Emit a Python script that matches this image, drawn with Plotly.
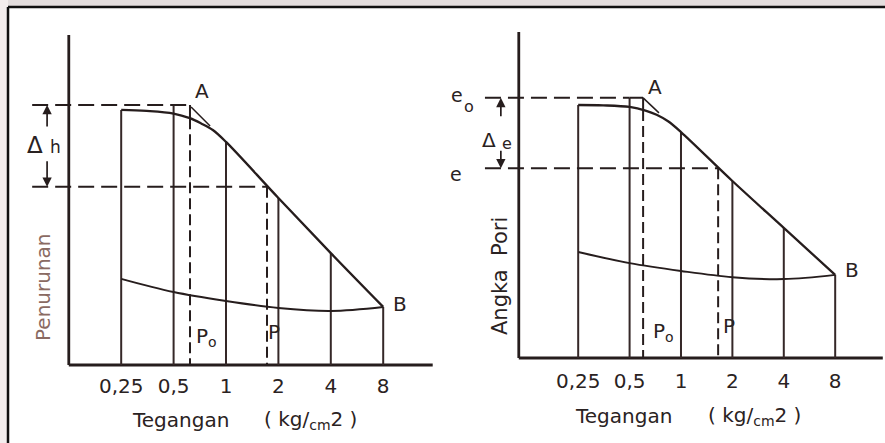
import numpy as np
import plotly.graph_objects as go

W, H = 885, 443

# ---------------- data ----------------
# stress axis (kg/cm2), shared tick positions
p_ticks = [0.25, 0.5, 1, 2, 4, 8]
p_ticktext = ["0,25", "0,5", "1", "2", "4", "8"]

# left diagram: settlement (Penurunan) vs stress
load_p_L = [0.25, 0.35, 0.5, 0.62, 0.72, 0.84, 1, 2, 4, 8]
load_h_L = [77.3, 77.0, 76.2, 74.8, 73.2, 71.2, 67.6, 50.6, 33.9, 17.6]
unload_p_L = [0.25, 0.5, 1, 2, 4, 8]
unload_h_L = [26.1, 22.1, 19.4, 17.3, 16.4, 17.6]
h0_L, h1_L = 78.8, 54.0          # levels bounding delta-h
po_L, p_L = 0.621, 1.72          # Po and P
tan_p_L = [0.63, 0.81]
tan_h_L = [78.2, 72.4]
axis_p_L = [0.125, 15.4]         # extent of the drawn axes
dim_p_L = 0.0938                 # position of the delta-h dimension arrows
lead_p_L = 0.077                 # start of the dashed leader lines

# right diagram: void ratio (Angka Pori) vs stress
load_p_R = [0.25, 0.35, 0.5, 0.62, 0.72, 0.84, 1, 2, 4, 8]
load_e_R = [77.6, 77.5, 77.0, 75.9, 74.6, 72.6, 69.3, 54.3, 39.9, 25.5]
unload_p_R = [0.25, 0.5, 1, 2, 4, 8]
unload_e_R = [32.5, 29.1, 26.7, 24.8, 24.2, 25.5]
e0_R, e1_R = 79.8, 58.2          # e0 and e
po_R, p_R = 0.60, 1.65
tan_p_R = [0.60, 0.743]
tan_e_R = [79.8, 75.2]
axis_p_R = [0.1122, 15.2]
dim_p_R = 0.0881
lead_p_R = 0.0711

# ---------------- styling ----------------
INK = "#261d1d"
VINK = "#352828"
TXT = "#2a2222"
FONT = "DejaVu Sans, Verdana, sans-serif"

fig = go.Figure()


def line(xs, ys, ax, color=INK, width=2.0, dash=None, shape="linear"):
    xa, ya = ("x", "y") if ax == 1 else ("x2", "y2")
    fig.add_trace(go.Scatter(
        x=xs, y=ys, xaxis=xa, yaxis=ya, mode="lines",
        line=dict(color=color, width=width, dash=dash, shape=shape),
        hoverinfo="skip", showlegend=False))


def panel(ax, load_p, load_v, unload_p, unload_v, v0, v1, po, p,
          tan_p, tan_v, axis_p, lead_p, top_solid_from_half):
    # axes
    line([axis_p[0], axis_p[0]], [0, 100], ax, width=2.8)
    line([axis_p[0], axis_p[1]], [0, 0], ax, width=2.8)
    # vertical ordinates at each stress increment
    vx, vy = [], []
    for t in p_ticks:
        top = v0 if t == 0.5 else load_v[load_p.index(t)]
        vx += [t, t, None]
        vy += [0, top, None]
    line(vx, vy, ax, color=VINK, width=2.0)
    # loading and unloading curves
    line(load_p, load_v, ax, width=2.3, shape="spline")
    line(unload_p, unload_v, ax, width=2.0, shape="spline")
    # dashed leaders
    if top_solid_from_half:
        line([lead_p, 0.5], [v0, v0], ax, width=2.0, dash="16px,7px")
        line([0.5, po], [v0, v0], ax, width=2.0)
    else:
        line([lead_p, po], [v0, v0], ax, width=2.0, dash="16px,7px")
    line([lead_p, p], [v1, v1], ax, width=2.0, dash="16px,7px")
    # Po and P verticals
    po_top = np.interp(np.log10(po), np.log10(load_p), load_v)
    line([po, po], [v0, po_top], ax, width=2.0)
    line([po, po], [po_top, 0], ax, width=2.0, dash="11px,5px")
    line([p, p], [v1, 0], ax, width=2.0, dash="11px,5px")
    # tangent stroke at A
    line(tan_p, tan_v, ax, width=1.5)


panel(1, load_p_L, load_h_L, unload_p_L, unload_h_L, h0_L, h1_L, po_L, p_L,
      tan_p_L, tan_h_L, axis_p_L, lead_p_L, False)
panel(2, load_p_R, load_e_R, unload_p_R, unload_e_R, e0_R, e1_R, po_R, p_R,
      tan_p_R, tan_e_R, axis_p_R, lead_p_R, True)

anns = []


def arrow(ax, p, v, dy):
    anns.append(dict(xref="x" if ax == 1 else "x2", yref="y" if ax == 1 else "y2",
                     x=np.log10(p), y=v, ax=0, ay=dy, text="", showarrow=True,
                     arrowhead=2, arrowsize=1.1, arrowwidth=1.7, arrowcolor=INK))


arrow(1, dim_p_L, h0_L, 23)
arrow(1, dim_p_L, h1_L, -27)
arrow(2, dim_p_R, e0_R, 20)
arrow(2, dim_p_R, e1_R, -19)


def txt(px, py, s, size=20, color=TXT, angle=0, xanchor="center", yanchor="middle"):
    anns.append(dict(xref="paper", yref="paper", x=px / W, y=1 - py / H, text=s,
                     showarrow=False, textangle=angle, xanchor=xanchor, yanchor=yanchor,
                     font=dict(family=FONT, size=size, color=color)))


# left labels
txt(202, 91, "A")
txt(400, 304, "B")
txt(194, 337, "P<sub>o</sub>", xanchor="left")
txt(274, 332, "P")
txt(35, 145, "Δ", size=23)
txt(55, 147, "h", size=17)
txt(43, 287, "Penurunan", size=20, color="#8a6a62", angle=-90)
txt(180, 420, "Tegangan", size=20)
txt(310, 420, "( kg/<sub>cm</sub>2 )", size=20)

# right labels
txt(655, 87, "A")
txt(852, 270, "B")
txt(651, 332, "P<sub>o</sub>", xanchor="left")
txt(729, 326, "P")
txt(489, 140, "Δ", size=20)
txt(507, 143, "e", size=16)
txt(457, 95, "e", size=19)
txt(469, 106, "o", size=16)
txt(456, 174, "e", size=19)
txt(500, 276, "Angka  Pori", size=21, angle=-90)
txt(623, 416, "Tegangan", size=20)
txt(754, 416, "( kg/<sub>cm</sub>2 )", size=20)

# page frame
shapes = [
    dict(type="rect", xref="paper", yref="paper", x0=0, x1=1, y0=1 - 7 / H, y1=1,
         fillcolor="#e4dede", line=dict(width=0), layer="below"),
    dict(type="rect", xref="paper", yref="paper", x0=0, x1=8 / W, y0=0, y1=1,
         fillcolor="#f4eeee", line=dict(width=0), layer="below"),
    dict(type="line", xref="paper", yref="paper", x0=8 / W, x1=1, y0=1 - 7 / H, y1=1 - 7 / H,
         line=dict(color="#111", width=2.5)),
    dict(type="line", xref="paper", yref="paper", x0=8 / W, x1=8 / W, y0=0, y1=1 - 7 / H,
         line=dict(color="#111", width=2.5)),
]


def yaxis_dom(bottom_px, top_px, per_unit):
    return [1 - (bottom_px + 5 * per_unit) / H, 1 - (top_px - 5 * per_unit) / H]


xcommon = dict(type="log", tickvals=p_ticks, ticktext=p_ticktext, ticks="",
               showgrid=False, zeroline=False, showline=False, anchor="free",
               tickfont=dict(family=FONT, size=20, color=TXT))
ycommon = dict(range=[-5, 105], showgrid=False, zeroline=False, showline=False,
               showticklabels=False, ticks="")

fig.update_layout(
    width=W, height=H, margin=dict(l=0, r=0, t=0, b=0), autosize=False,
    paper_bgcolor="white", plot_bgcolor="rgba(0,0,0,0)",
    xaxis=dict(domain=[20 / W, 440 / W], range=[-1.1834, 1.2294],
               position=1 - 365 / H, ticklabelstandoff=7, **xcommon),
    yaxis=dict(domain=yaxis_dom(365, 35, 3.3), anchor="x", **ycommon),
    xaxis2=dict(domain=[470 / W, 1.0], range=[-1.2357, 1.1948],
                position=1 - 358 / H, ticklabelstandoff=9, **xcommon),
    yaxis2=dict(domain=yaxis_dom(358, 32, 3.26), anchor="x2", **ycommon),
    annotations=anns, shapes=shapes, showlegend=False,
)

fig.write_html("out.html")
